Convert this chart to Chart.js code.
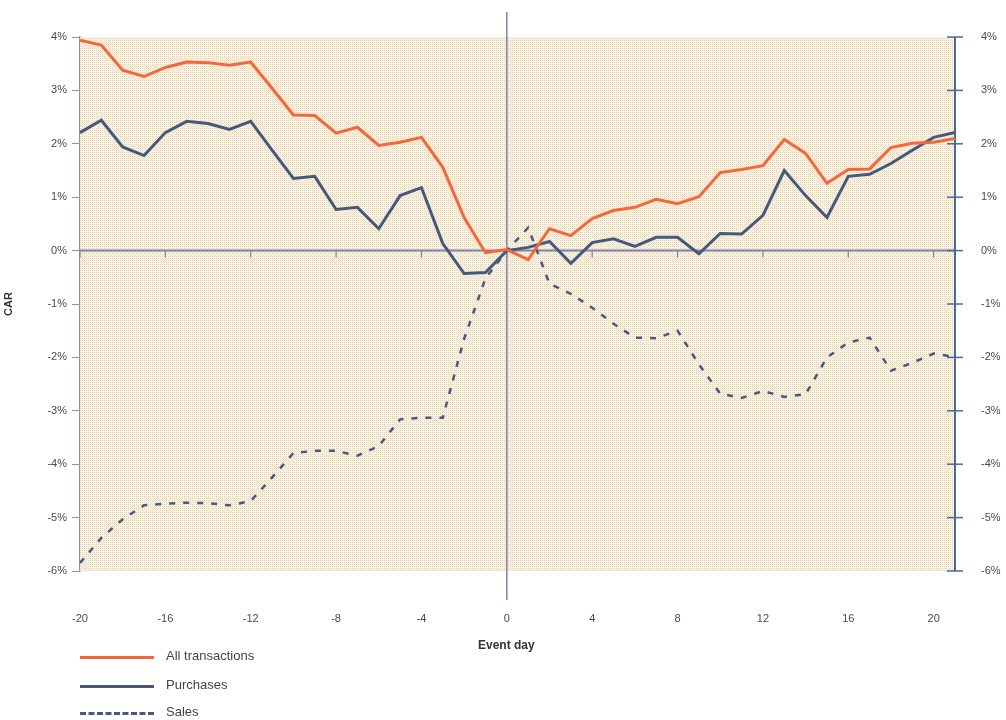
<!DOCTYPE html>
<html>
<head>
<meta charset="utf-8">
<script src="https://cdn.jsdelivr.net/npm/chart.js@4.4.1/dist/chart.umd.min.js"></script>
<style>
  body { margin: 0; background: #fff; font-family: "Liberation Sans", Arial, sans-serif; }
  #wrap { position: relative; width: 1006px; height: 720px; overflow: hidden; }
  #cv { position: absolute; left: 0; top: 0; }
  .lbl { position: absolute; color: #444; font-size: 13px; white-space: nowrap; }
  .swatch { position: absolute; height: 0; }
</style>
</head>
<body>
<div id="wrap">
  <canvas id="cv" width="1006" height="720"></canvas>
  <div class="lbl" style="left:478px; top:638px; font-weight:bold; font-size:12px; color:#333;">Event day</div>
  <div class="swatch" style="left:80px; top:656px; width:74px; border-top:3px solid #ee6a3c;"></div>
  <div class="lbl" style="left:166px; top:648px;">All transactions</div>
  <div class="swatch" style="left:80px; top:685px; width:74px; border-top:3px solid #46597d;"></div>
  <div class="lbl" style="left:166px; top:677px;">Purchases</div>
  <div class="swatch" style="left:80px; top:712px; width:74px; border-top:3px dashed #4a5880;"></div>
  <div class="lbl" style="left:166px; top:704px;">Sales</div>
</div>
<script>
// Event days -20 .. 21
const days = [];
for (let d = -20; d <= 21; d++) days.push(d);

// CAR in %
const allTransactions = [3.94, 3.85, 3.38, 3.26, 3.43, 3.53, 3.52, 3.47, 3.53, 3.04,
  2.54, 2.53, 2.20, 2.31, 1.97, 2.03, 2.12, 1.56, 0.62, -0.04,
  0.02, -0.17, 0.41, 0.28, 0.60, 0.75, 0.81, 0.96, 0.88, 1.01,
  1.46, 1.52, 1.59, 2.08, 1.82, 1.26, 1.52, 1.53, 1.93, 2.01, 2.03, 2.10];
const purchases = [2.21, 2.44, 1.94, 1.78, 2.21, 2.42, 2.38, 2.27, 2.42, 1.88,
  1.35, 1.39, 0.77, 0.81, 0.41, 1.03, 1.18, 0.13, -0.43, -0.41,
  0.00, 0.06, 0.17, -0.24, 0.15, 0.22, 0.08, 0.25, 0.25, -0.06,
  0.32, 0.31, 0.66, 1.50, 1.03, 0.62, 1.39, 1.43, 1.63, 1.88, 2.12, 2.21];
const sales = [-5.85, -5.38, -5.03, -4.77, -4.74, -4.72, -4.73, -4.77, -4.69, -4.25,
  -3.79, -3.75, -3.75, -3.84, -3.66, -3.16, -3.13, -3.13, -1.65, -0.52,
  0.00, 0.43, -0.62, -0.81, -1.07, -1.37, -1.63, -1.64, -1.50, -2.13,
  -2.68, -2.76, -2.63, -2.74, -2.69, -2.00, -1.72, -1.63, -2.25, -2.10, -1.93, -1.99];

const xTicks = [-20, -16, -12, -8, -4, 0, 4, 8, 12, 16, 20];
const yTicks = [4, 3, 2, 1, 0, -1, -2, -3, -4, -5, -6];

const toPts = arr => arr.map((v, i) => ({ x: days[i], y: v }));

// hatched background tile
function makePattern(ctx) {
  const t = document.createElement('canvas');
  t.width = 4; t.height = 4;
  const c = t.getContext('2d');
  c.fillStyle = '#fcf3dd'; c.fillRect(0, 0, 4, 4);
  c.fillStyle = '#d8d5d6'; c.fillRect(0, 0, 1, 1); c.fillRect(2, 2, 1, 1);
  c.fillStyle = '#f5d6b4'; c.fillRect(2, 0, 1, 1); c.fillRect(0, 2, 1, 1);
  c.fillStyle = '#ece5d8'; c.fillRect(1, 1, 1, 1); c.fillRect(3, 3, 1, 1);
  return ctx.createPattern(t, 'repeat');
}

const decor = {
  id: 'decor',
  beforeDatasetsDraw(chart) {
    const { ctx, chartArea: a, scales } = chart;
    const x = scales.x, y = scales.y;
    ctx.save();
    ctx.fillStyle = makePattern(ctx);
    ctx.fillRect(a.left, a.top, a.right - a.left, a.bottom - a.top);
    const y0 = y.getPixelForValue(0);
    const x0 = x.getPixelForValue(0);
    // zero line
    ctx.strokeStyle = '#7c84a6';
    ctx.lineWidth = 2;
    ctx.beginPath(); ctx.moveTo(a.left, y0); ctx.lineTo(a.right, y0); ctx.stroke();
    // event day line
    ctx.lineWidth = 1.5;
    ctx.beginPath(); ctx.moveTo(x0, 12); ctx.lineTo(x0, 600); ctx.stroke();
    // ticks on zero line
    ctx.lineWidth = 1.2;
    xTicks.forEach(v => {
      const px = x.getPixelForValue(v);
      ctx.beginPath(); ctx.moveTo(px, y0); ctx.lineTo(px, y0 + 7); ctx.stroke();
    });
    // right axis
    ctx.strokeStyle = '#4a6a9c';
    ctx.lineWidth = 2;
    ctx.beginPath(); ctx.moveTo(a.right, a.top); ctx.lineTo(a.right, a.bottom); ctx.stroke();
    ctx.lineWidth = 1.5;
    yTicks.forEach(v => {
      const py = y.getPixelForValue(v);
      ctx.beginPath(); ctx.moveTo(a.right - 8, py); ctx.lineTo(a.right + 8, py); ctx.stroke();
    });
    ctx.restore();
  }
};

const tickFont = { family: '"Liberation Sans", Arial, sans-serif', size: 11 };

new Chart(document.getElementById('cv'), {
  type: 'line',
  data: {
    datasets: [
      { label: 'All transactions', data: toPts(allTransactions), borderColor: '#ee6a3c', borderWidth: 3, pointRadius: 0, tension: 0 },
      { label: 'Purchases', data: toPts(purchases), borderColor: '#46597d', borderWidth: 3, pointRadius: 0, tension: 0 },
      { label: 'Sales', data: toPts(sales), borderColor: '#4a5880', borderWidth: 2.5, borderDash: [6, 8], pointRadius: 0, tension: 0 }
    ]
  },
  options: {
    responsive: false,
    animation: false,
    layout: { padding: { top: 37, left: 0, right: 0, bottom: 0 } },
    plugins: { legend: { display: false }, tooltip: { enabled: false } },
    scales: {
      x: {
        type: 'linear', min: -20, max: 21,
        afterFit: s => { s.height = 149; },
        afterBuildTicks: s => { s.ticks = xTicks.map(v => ({ value: v })); },
        border: { display: false },
        grid: { display: false },
        ticks: { color: '#4a4a4a', font: tickFont, padding: 33, maxRotation: 0, callback: v => String(v) }
      },
      y: {
        position: 'left', min: -6, max: 4,
        afterFit: s => { s.width = 80; },
        afterBuildTicks: s => { s.ticks = yTicks.map(v => ({ value: v })); },
        border: { display: true, color: '#8a90b4', width: 1.5 },
        grid: { drawOnChartArea: false, color: '#8a90b4', tickLength: 8 },
        ticks: { color: '#4a4a4a', font: tickFont, padding: 5, callback: v => v + '%' },
        title: { display: true, text: 'CAR', color: '#333', font: { family: '"Liberation Sans", Arial, sans-serif', size: 11, weight: 'bold' }, padding: 2 }
      },
      y2: {
        position: 'right', min: -6, max: 4,
        afterFit: s => { s.width = 51; },
        afterBuildTicks: s => { s.ticks = yTicks.map(v => ({ value: v })); },
        border: { display: false },
        grid: { display: false },
        ticks: { color: '#4a4a4a', font: tickFont, padding: 18, callback: v => v + '%' }
      }
    }
  },
  plugins: [decor]
});
</script>
</body>
</html>
